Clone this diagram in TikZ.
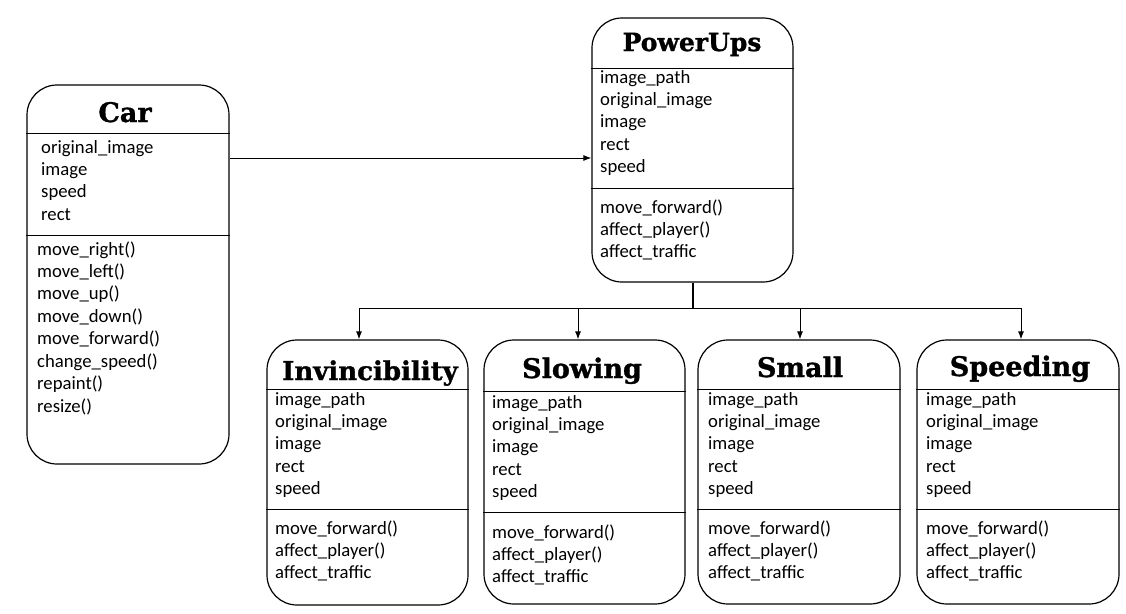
\documentclass[tikz,border=0pt]{standalone}
\usepackage{fontspec}
\setmainfont{Carlito}
\newfontfamily\titlefont{DejaVu Serif}[BoldFeatures={FakeBold=1.2}]
\usetikzlibrary{arrows.meta}
\tikzset{
  cls/.style={draw, line width=1.2pt, rounded corners=30pt, inner sep=0pt},
  ttl/.style={font=\titlefont\bfseries\fontsize{27}{30}\selectfont, anchor=base, inner sep=0pt},
  txt/.style={font=\fontsize{18.7}{22}\selectfont, anchor=base west, inner sep=0pt},
  sep/.style={line width=0.8pt},
  arr/.style={line width=1pt, -{Latex[length=8pt,width=6pt]}},
}
\newcommand\classlines[4]{\foreach \t [count=\i] in {#4} {\node[txt] (#1\i) at (#2, {#3+(\i-1)*22.45}) {\t};}}
\begin{document}
\begin{tikzpicture}[x=1pt,y=-1pt]
\useasboundingbox (0,0) rectangle (1126,613);
% Car
\node[cls, minimum width=202pt, minimum height=379pt] (car) at (128,274.5) {};
\node[ttl] (cart) at (125,122) {Car};
\draw[sep] (car.west |- 0,133) -- (car.east |- 0,133);
\draw[sep] (car.west |- 0,235) -- (car.east |- 0,235);
\classlines{cara}{41}{153}{original\_image,image,speed,rect}
\classlines{carm}{37}{255}{move\_right(),move\_left(),move\_up(),move\_down(),move\_forward(),change\_speed(),repaint(),resize()}
% PowerUps
\node[cls, minimum width=201pt, minimum height=264pt] (pu) at (692.5,150) {};
\node[ttl, font=\titlefont\bfseries\fontsize{25}{28}\selectfont] (put) at (692,51) {PowerUps};
\draw[sep] (pu.west |- 0,68) -- (pu.east |- 0,68);
\draw[sep] (pu.west |- 0,188) -- (pu.east |- 0,188);
\classlines{pua}{600}{83}{image\_path,original\_image,image,rect,speed}
\classlines{pum}{600}{213}{move\_forward(),affect\_player(),affect\_traffic}
% Invincibility
\node[cls, minimum width=201pt, minimum height=265pt] (inv) at (367.5,472.5) {};
\node[ttl, font=\titlefont\bfseries\fontsize{26}{29}\selectfont] (invt) at (370,380) {Invincibility};
\draw[sep] (inv.west |- 0,389) -- (inv.east |- 0,389);
\draw[sep] (inv.west |- 0,509) -- (inv.east |- 0,509);
\classlines{inva}{275}{405}{image\_path,original\_image,image,rect,speed}
\classlines{invm}{275}{534}{move\_forward(),affect\_player(),affect\_traffic}
% Slowing
\node[cls, minimum width=201pt, minimum height=264pt] (slow) at (584.5,472) {};
\node[ttl] (slowt) at (582,378) {Slowing};
\draw[sep] (slow.west |- 0,391) -- (slow.east |- 0,391);
\draw[sep] (slow.west |- 0,512) -- (slow.east |- 0,512);
\classlines{slowa}{492}{408}{image\_path,original\_image,image,rect,speed}
\classlines{slowm}{492}{538}{move\_forward(),affect\_player(),affect\_traffic}
% Small
\node[cls, minimum width=202pt, minimum height=264pt] (small) at (799,472) {};
\node[ttl] (smallt) at (800,377) {Small};
\draw[sep] (small.west |- 0,389) -- (small.east |- 0,389);
\draw[sep] (small.west |- 0,509) -- (small.east |- 0,509);
\classlines{smalla}{708}{405}{image\_path,original\_image,image,rect,speed}
\classlines{smallm}{708}{534}{move\_forward(),affect\_player(),affect\_traffic}
% Speeding
\node[cls, minimum width=202pt, minimum height=264pt] (speed) at (1018,472) {};
\node[ttl] (speedt) at (1020,376) {Speeding};
\draw[sep] (speed.west |- 0,389) -- (speed.east |- 0,389);
\draw[sep] (speed.west |- 0,509) -- (speed.east |- 0,509);
\classlines{speeda}{926}{405}{image\_path,original\_image,image,rect,speed}
\classlines{speedm}{926}{534}{move\_forward(),affect\_player(),affect\_traffic}
% connectors
\draw[arr] (car.east |- 0,158) -- (pu.west |- 0,158);
\coordinate (j) at (pu.south |- 0,308);
\draw[line width=2pt] (pu.south) -- (j);
\draw[arr] (j) -| (inv.north -| 359,0);
\draw[arr] (j) -| (slow.north -| 578,0);
\draw[arr] (j) -| (small.north -| 800,0);
\draw[arr] (j) -| (speed.north -| 1021,0);
\end{tikzpicture}
\end{document}
